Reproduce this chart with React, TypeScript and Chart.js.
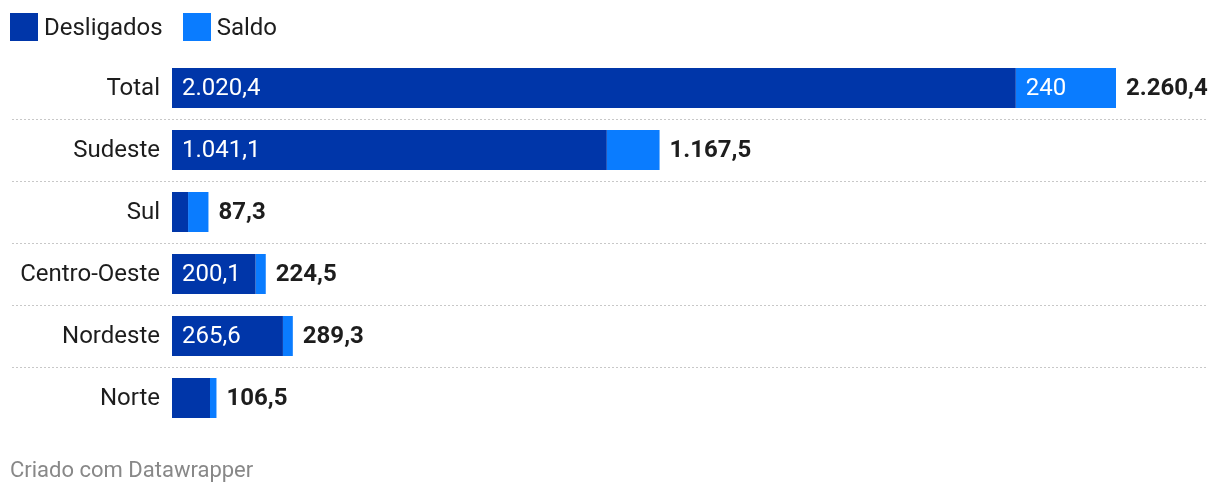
import React, { useEffect, useRef } from "react";
import { Chart, registerables } from "chart.js";

Chart.register(...registerables);

const categories = ["Total", "Sudeste", "Sul", "Centro-Oeste", "Nordeste", "Norte"];
const desligados = [2020.4, 1041.1, 38.5, 200.1, 265.6, 91.0];
const saldo = [240.0, 126.4, 48.8, 24.4, 23.7, 15.5];
const totals = [2260.4, 1167.5, 87.3, 224.5, 289.3, 106.5];
const desligadosLabels = ["2.020,4", "1.041,1", "", "200,1", "265,6", ""];
const saldoLabels = ["240", "", "", "", "", ""];
const totalLabels = ["2.260,4", "1.167,5", "87,3", "224,5", "289,3", "106,5"];

const DARK = "#0036a9";
const LIGHT = "#0a7cff";
const FONT = "Roboto, 'Noto Sans', sans-serif";

const labelPlugin = {
  id: "customLabels",
  afterDatasetsDraw(chart: any) {
    const ctx = chart.ctx;
    const y = chart.scales.y;
    const x = chart.scales.x;
    ctx.save();
    ctx.strokeStyle = "#c8c8c8";
    ctx.lineWidth = 1;
    ctx.setLineDash([2, 2]);
    for (let i = 0; i < categories.length - 1; i++) {
      const yy = Math.round((y.getPixelForValue(i) + y.getPixelForValue(i + 1)) / 2) + 0.5;
      ctx.beginPath();
      ctx.moveTo(12, yy);
      ctx.lineTo(1208, yy);
      ctx.stroke();
    }
    ctx.setLineDash([]);
    ctx.textBaseline = "middle";
    const x0 = x.getPixelForValue(0);
    for (let i = 0; i < categories.length; i++) {
      const yc = y.getPixelForValue(i) + 1;
      ctx.textAlign = "right";
      ctx.fillStyle = "#1d1d1d";
      ctx.font = `24px ${FONT}`;
      ctx.fillText(categories[i], x0 - 12, yc);
      ctx.textAlign = "left";
      ctx.fillStyle = "#ffffff";
      if (desligadosLabels[i]) ctx.fillText(desligadosLabels[i], x0 + 10, yc);
      if (saldoLabels[i]) ctx.fillText(saldoLabels[i], x.getPixelForValue(desligados[i]) + 10, yc);
      ctx.fillStyle = "#1d1d1d";
      ctx.font = `bold 24px ${FONT}`;
      ctx.fillText(totalLabels[i], x.getPixelForValue(totals[i]) + 10, yc);
    }
    ctx.restore();
  },
};

export default function App() {
  const ref = useRef<HTMLCanvasElement | null>(null);
  useEffect(() => {
    document.body.style.margin = "0";
    const chart = new Chart(ref.current as HTMLCanvasElement, {
      type: "bar",
      data: {
        labels: categories,
        datasets: [
          { label: "Desligados", data: desligados, backgroundColor: DARK, borderWidth: 0 },
          { label: "Saldo", data: saldo, backgroundColor: LIGHT, borderWidth: 0 },
        ],
      },
      options: {
        indexAxis: "y",
        animation: false,
        responsive: false,
        maintainAspectRatio: false,
        datasets: { bar: { categoryPercentage: 1, barPercentage: 40 / 62 } },
        layout: { padding: { top: 57, bottom: 67, right: 104, left: 0 } },
        plugins: { legend: { display: false }, tooltip: { enabled: false } },
        scales: {
          x: { stacked: true, display: false, min: 0, max: 2260.4 },
          y: {
            stacked: true,
            grid: { display: false, drawTicks: false },
            border: { display: false },
            ticks: { display: false },
            afterFit: (scale: any) => {
              scale.width = 172;
            },
          },
        },
      },
      plugins: [labelPlugin],
    } as any);
    return () => chart.destroy();
  }, []);

  const sq = (c: string) => ({
    display: "inline-block",
    width: 28,
    height: 28,
    background: c,
    marginRight: 6,
  });

  return (
    <div style={{ position: "relative", width: 1220, height: 496, fontFamily: FONT }}>
      <canvas ref={ref} width={1220} height={496} style={{ position: "absolute", left: 0, top: 0 }} />
      <div
        style={{
          position: "absolute",
          left: 10,
          top: 13,
          display: "flex",
          alignItems: "center",
          fontSize: 24,
          color: "#1d1d1d",
          lineHeight: "28px",
        }}
      >
        <span style={sq(DARK)} />
        <span style={{ marginRight: 20 }}>Desligados</span>
        <span style={sq(LIGHT)} />
        <span>Saldo</span>
      </div>
      <div
        style={{
          position: "absolute",
          left: 10,
          top: 456,
          fontSize: 22,
          color: "#888888",
          lineHeight: "28px",
        }}
      >
        Criado com Datawrapper
      </div>
    </div>
  );
}
